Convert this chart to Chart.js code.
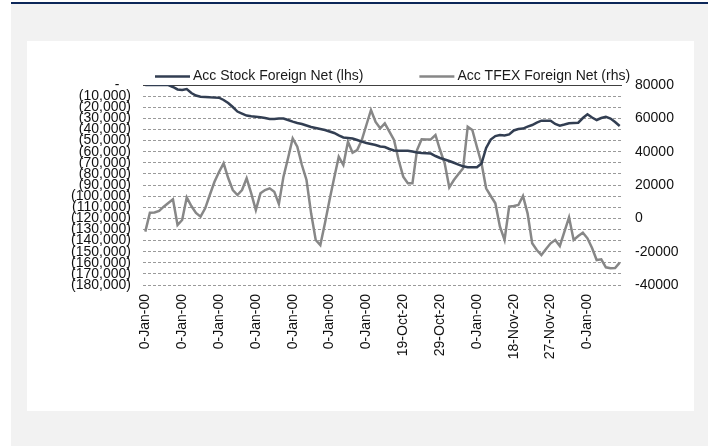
<!DOCTYPE html>
<html>
<head>
<meta charset="utf-8">
<script src="https://cdn.jsdelivr.net/npm/chart.js@4.4.1/dist/chart.umd.min.js"></script>
<style>
  html, body { margin: 0; padding: 0; background: #fff; }
  body { width: 708px; height: 446px; position: relative; overflow: hidden; }
  .panel { position: absolute; left: 11px; top: 2px; width: 697px; height: 442px; background: #f2f2f2; border-top: 2px solid #0c2759; }
  .card { position: absolute; left: 27px; top: 41px; width: 667px; height: 370px; background: #fff; }
</style>
</head>
<body>
<div class="panel"></div>
<div class="card"><canvas id="mychart" width="667" height="370"></canvas></div>
<script>
// tick labels shown every 8th category
const tickLabels = ['0-Jan-00', '0-Jan-00', '0-Jan-00', '0-Jan-00', '0-Jan-00', '0-Jan-00', '0-Jan-00',
  '19-Oct-20', '29-Oct-20', '0-Jan-00', '18-Nov-20', '27-Nov-20', '0-Jan-00'];
const labelEvery = 8;

// Acc Stock Foreign Net (lhs)
const stockNet = [
  0, 0, 0, 0, 0, 0, -1800, -4000, -4500, -3600,
  -7200, -9500, -10500, -10800, -11100, -11300, -11400, -13500, -16200, -19800,
  -23900, -25700, -27500, -28200, -28600, -29000, -29700, -30600, -30600, -30100,
  -30200, -31500, -33000, -34200, -35100, -36500, -37800, -38700, -39600, -40500,
  -41900, -43200, -45400, -47200, -47700, -48200, -49500, -51000, -52200, -53100,
  -54000, -55400, -55800, -57600, -58900, -59100, -59100, -59100, -59900, -60800,
  -61200, -61400, -61700, -63900, -65700, -67100, -68400, -70000, -71700, -73200,
  -74100, -74100, -74100, -70700, -56700, -49100, -46000, -45000, -45500, -44500,
  -40900, -39600, -39200, -37400, -36000, -33800, -32100, -32100, -32100, -35100,
  -36600, -35600, -34500, -34200, -33900, -29700, -26400, -29300, -31500, -29700,
  -28600, -30200, -33300, -36900
];

// Acc TFEX Foreign Net (rhs)
const tfexNet = [
  -8000, 3400, 3500, 4400, 7000, 9200, 11400, -4000, -1000, 12600,
  7400, 3200, 1000, 6000, 14000, 21800, 27800, 33000, 24200, 17000,
  14000, 17000, 24000, 15000, 5000, 15000, 17000, 18000, 16000, 8600,
  25000, 36200, 48000, 43000, 32000, 23000, 3000, -13000, -16000, -3000,
  11000, 24200, 37000, 32000, 46000, 39400, 41000, 47000, 56000, 65000,
  57800, 54000, 57000, 52000, 47000, 35000, 25000, 21000, 21000, 41000,
  47400, 47300, 47400, 50000, 41000, 33000, 18600, 23000, 26600, 30000,
  55000, 53000, 42800, 33000, 18000, 13400, 9000, -5000, -13000, 7000,
  7400, 8000, 13400, 3000, -15000, -19000, -22000, -18400, -15000, -13000,
  -16600, -8000, 600, -13000, -10600, -8600, -12000, -17800, -25000, -24600,
  -29400, -30000, -29800, -26600
];

const categories = stockNet.map((v, i) => i % labelEvery === 0 ? tickLabels[i / labelEvery] : '');

const FONT = '"Liberation Sans", Arial, sans-serif';

// legend drawn above the plot like the original (wide gap between items)
const legendLines = {
  id: 'legendLines',
  afterDraw(chart) {
    const ctx = chart.ctx;
    const area = chart.chartArea;
    let x = area.left + 12;
    const y = area.top - 8.5;
    ctx.save();
    ctx.font = '14px ' + FONT;
    ctx.textBaseline = 'middle';
    ctx.fillStyle = '#1a1a1a';
    chart.data.datasets.forEach(ds => {
      ctx.strokeStyle = ds.borderColor;
      ctx.lineWidth = ds.borderWidth;
      ctx.beginPath();
      ctx.moveTo(x, y);
      ctx.lineTo(x + 35, y);
      ctx.stroke();
      ctx.fillText(ds.label, x + 38, y);
      x += 38 + ctx.measureText(ds.label).width + 56;
    });
    ctx.restore();
  }
};

new Chart('mychart', {
  type: 'line',
  data: {
    labels: categories,
    datasets: [{
      label: 'Acc Stock Foreign Net (lhs)',
      data: stockNet,
      yAxisID: 'y',
      borderColor: '#323e52',
      borderWidth: 2.5,
      pointRadius: 0,
      tension: 0
    }, {
      label: 'Acc TFEX Foreign Net (rhs)',
      data: tfexNet,
      yAxisID: 'y1',
      borderColor: '#878787',
      borderWidth: 2.5,
      pointRadius: 0,
      tension: 0
    }]
  },
  options: {
    responsive: false,
    animation: false,
    layout: { padding: { top: 44, left: 0, right: 0, bottom: 0 } },
    plugins: { legend: { display: false }, tooltip: { enabled: false } },
    scales: {
      x: {
        offset: true,
        grid: { display: false, drawTicks: false },
        border: { display: false },
        ticks: {
          autoSkip: false,
          minRotation: 90,
          maxRotation: 90,
          padding: 9,
          color: '#111',
          font: { family: FONT, size: 14 },
          callback: (v, i) => categories[i] || null
        },
        afterFit: s => { s.height = 126; }
      },
      y: {
        position: 'left',
        min: -180000,
        max: 0,
        grid: {
          drawTicks: false,
          color: c => c.tick && c.tick.value === 0 ? '#404040' : '#9a9a9a'
        },
        border: {
          display: false,
          dash: c => c.tick && c.tick.value === 0 ? [] : [3, 2]
        },
        ticks: {
          stepSize: 10000,
          autoSkip: false,
          padding: 12,
          color: '#111',
          font: { family: FONT, size: 14 },
          callback: v => v === 0 ? '-   ' : '(' + Math.abs(v).toLocaleString('en-US') + ')'
        },
        afterFit: s => { s.width = 116; }
      },
      y1: {
        position: 'right',
        min: -40000,
        max: 80000,
        grid: { display: false, drawTicks: false },
        border: { display: false },
        ticks: {
          stepSize: 20000,
          padding: 13,
          color: '#111',
          font: { family: FONT, size: 14 },
          callback: v => String(v)
        },
        afterFit: s => { s.width = 72; }
      }
    }
  },
  plugins: [legendLines]
});
</script>
</body>
</html>
